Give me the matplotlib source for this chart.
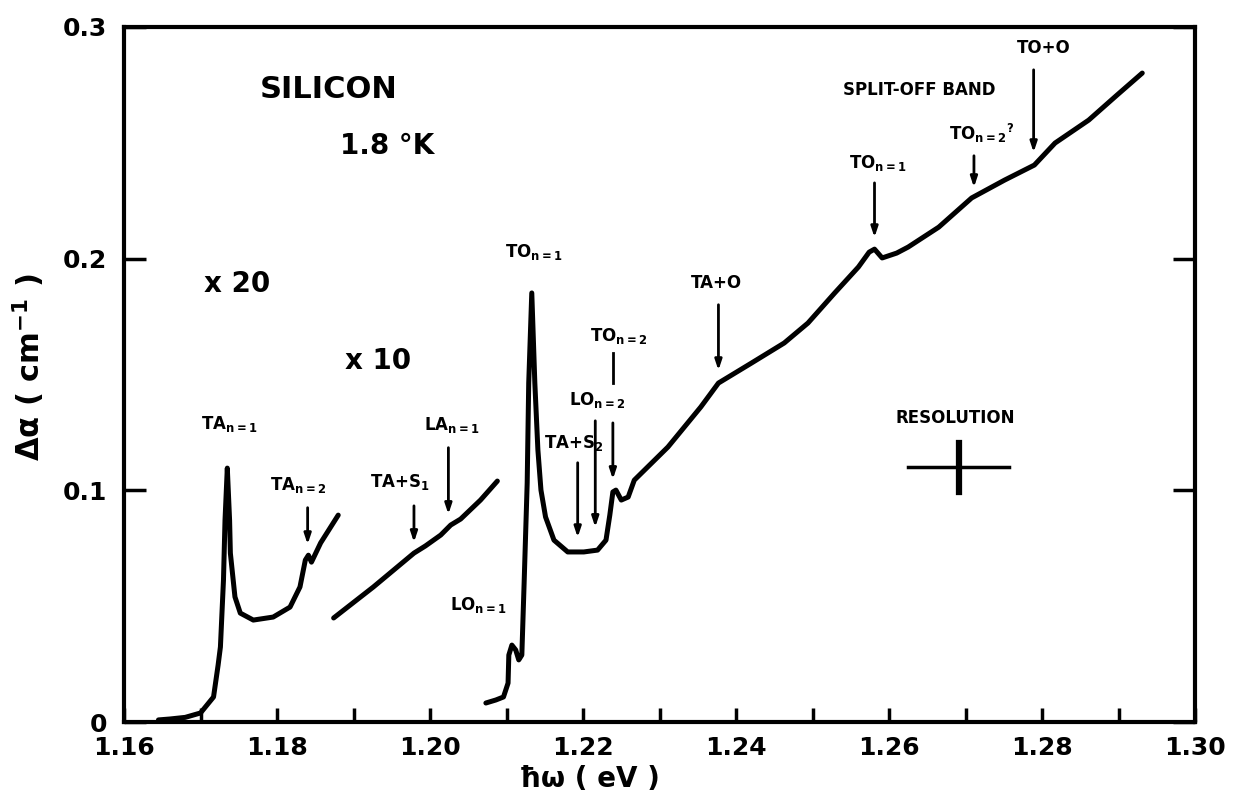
import numpy as np
import matplotlib.pyplot as plt

plt.rcParams['font.family'] = ['DejaVu Sans']
plt.rcParams['font.weight'] = 'bold'
plt.rcParams['mathtext.default'] = 'regular'

# x 20 trace (low energy)
e_x20 = [1.1645, 1.1660, 1.1680, 1.1700, 1.1717, 1.1723, 1.1726, 1.1730, 1.1732,
         1.1735, 1.1738, 1.1739, 1.1745, 1.1752, 1.1769, 1.1795, 1.1817, 1.1830,
         1.1837, 1.1841, 1.1845, 1.1857, 1.1880]
a_x20 = [0.0009, 0.0013, 0.0020, 0.0039, 0.0108, 0.0246, 0.0324, 0.0613, 0.0870,
         0.1096, 0.0870, 0.0729, 0.0540, 0.0470, 0.0440, 0.0453, 0.0496, 0.0583,
         0.0699, 0.0720, 0.0690, 0.0773, 0.0893]

# x 10 trace
e_x10 = [1.1874, 1.1926, 1.1979, 1.1994, 1.2014, 1.2027, 1.2040, 1.2066, 1.2088]
a_x10 = [0.0449, 0.0583, 0.0729, 0.0760, 0.0807, 0.0850, 0.0876, 0.0958, 0.1040]

# main trace
e_main = [1.2073, 1.2086, 1.2096, 1.2102, 1.2103, 1.2107, 1.2112, 1.2116, 1.2120,
          1.2123, 1.2127, 1.2129, 1.2133, 1.2137, 1.2141, 1.2145, 1.2151, 1.2162,
          1.2180, 1.2201, 1.2219, 1.2230, 1.2235, 1.2239, 1.2243, 1.2250, 1.2259,
          1.2267, 1.2311, 1.2354, 1.2377, 1.2390, 1.2420, 1.2463, 1.2494, 1.2529,
          1.2560, 1.2574, 1.2581, 1.2591, 1.2610, 1.2625, 1.2665, 1.2708, 1.2751,
          1.2790, 1.2817, 1.2861, 1.2898, 1.2931]
a_main = [0.0082, 0.0095, 0.0108, 0.0168, 0.0289, 0.0332, 0.0311, 0.0268, 0.0289,
          0.0600, 0.1032, 0.1463, 0.1852, 0.1463, 0.1174, 0.1001, 0.0885, 0.0785,
          0.0734, 0.0734, 0.0742, 0.0785, 0.0893, 0.0993, 0.1001, 0.0958, 0.0971,
          0.1044, 0.1187, 0.1360, 0.1463, 0.1489, 0.1549, 0.1636, 0.1722, 0.1852,
          0.1964, 0.2028, 0.2041, 0.2003, 0.2024, 0.2050, 0.2136, 0.2262, 0.2339,
          0.2404, 0.2499, 0.2598, 0.2706, 0.2801]

# arrows: x position, tail y, tip y
arrow_x = [1.1840, 1.1979, 1.2024, 1.2193, 1.2216, 1.2239, 1.2377, 1.2581, 1.2711, 1.2789]
arrow_tail = [0.0937, 0.0945, 0.1196, 0.1131, 0.1312, 0.1303, 0.1813, 0.2339, 0.2456, 0.2827]
arrow_tip = [0.0755, 0.0764, 0.0885, 0.0785, 0.0829, 0.1036, 0.1506, 0.2080, 0.2296, 0.2447]

# peak labels
peak_labels = ['TA$_{n=1}$', 'TA$_{n=2}$', 'TA+S$_1$', 'LA$_{n=1}$', 'LO$_{n=1}$',
               'TO$_{n=1}$', 'TA+S$_2$', 'LO$_{n=2}$', 'TO$_{n=2}$', 'TA+O',
               'TO$_{n=1}$', 'TO$_{n=2}$$^?$', 'TO+O', 'SPLIT-OFF BAND', 'RESOLUTION']
peak_x = [1.1738, 1.1828, 1.1961, 1.2028, 1.2064, 1.2136, 1.2188, 1.2219, 1.2247,
          1.2374, 1.2586, 1.2721, 1.2802, 1.2640, 1.2686]
peak_y = [0.1286, 0.1023, 0.1036, 0.1282, 0.0505, 0.2028, 0.1204, 0.1390, 0.1666,
          0.1895, 0.2413, 0.2542, 0.2909, 0.2728, 0.1312]

# resolution cross
res_x, res_y = 1.2691, 0.1100
res_dx, res_dy = 0.0066, 0.0106

x_ticks = [1.16, 1.18, 1.20, 1.22, 1.24, 1.26, 1.28, 1.30]
x_minor = [1.17, 1.19, 1.21, 1.23, 1.25, 1.27, 1.29]
x_labels = ['1.16', '1.18', '1.20', '1.22', '1.24', '1.26', '1.28', '1.30']
y_ticks = [0, 0.1, 0.2, 0.3]
y_labels = ['0', '0.1', '0.2', '0.3']

fig = plt.figure(figsize=(12.49, 8.05), dpi=100)
ax = fig.add_axes([0.0993, 0.1031, 0.8575, 0.8634])

lw = 3.6
for ex, ay in [(e_x20, a_x20), (e_x10, a_x10), (e_main, a_main)]:
    ax.plot(ex, ay, color='black', lw=lw, solid_capstyle='round', solid_joinstyle='round')

for x, t, p in zip(arrow_x, arrow_tail, arrow_tip):
    ax.annotate('', xy=(x, p), xytext=(x, t),
                arrowprops=dict(arrowstyle='-|>,head_width=0.2,head_length=0.6',
                                color='black', lw=2))
# upper piece of the TO n=2 arrow, broken by the LO n=2 label
ax.plot([1.2239, 1.2239], [0.1593, 0.1463], color='black', lw=2)

for s, x, y in zip(peak_labels, peak_x, peak_y):
    ax.text(x, y, s, fontsize=12, fontweight='bold', ha='center', va='center')

ax.plot([res_x - res_dx, res_x + res_dx], [res_y, res_y], color='black', lw=2.5)
ax.plot([res_x, res_x], [res_y - res_dy, res_y + res_dy], color='black', lw=4.5)

ax.text(1.1867, 0.2728, 'SILICON', fontsize=22, fontweight='bold', ha='center', va='center')
ax.text(1.1944, 0.2485, '1.8 °K', fontsize=20, fontweight='bold', ha='center', va='center')
ax.text(1.1748, 0.1890, 'x 20', fontsize=20, fontweight='bold', ha='center', va='center')
ax.text(1.1932, 0.1560, 'x 10', fontsize=20, fontweight='bold', ha='center', va='center')

ax.set_xlim(1.16, 1.30)
ax.set_ylim(0, 0.3)
ax.set_xticks(x_ticks)
ax.set_xticklabels(x_labels)
ax.set_xticks(x_minor, minor=True)
ax.set_yticks(y_ticks)
ax.set_yticklabels(y_labels)
ax.tick_params(axis='x', which='both', direction='in', length=10, width=2.5,
               labelsize=18, pad=10, top=False)
ax.tick_params(axis='y', which='major', direction='in', length=16, width=2.5,
               labelsize=18, pad=12, right=True)
for s in ax.spines.values():
    s.set_linewidth(3)

ax.set_xlabel('ħω ( eV )', fontsize=20, fontweight='bold')
ax.xaxis.set_label_coords(0.435, -0.062)
ax.set_ylabel('Δα ( cm$^{-1}$ )', fontsize=22, fontweight='bold')
ax.yaxis.set_label_coords(-0.072, 0.51)

fig.savefig('out.png', dpi=100)
